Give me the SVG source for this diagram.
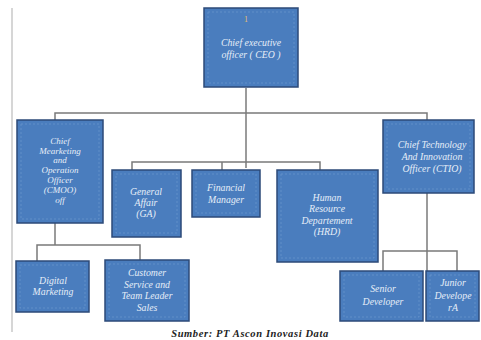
<svg xmlns="http://www.w3.org/2000/svg" width="481" height="340" viewBox="0 0 481 340">
<style>
.box{fill:#4a7dbe;stroke:#2c4a78;stroke-width:1.5}
.inner{fill:none;stroke:#8fb0dc;stroke-width:0.6;stroke-dasharray:2 2;opacity:0.6}
.t{font-family:"Liberation Serif","Times New Roman",serif;font-style:italic;font-size:9.8px;fill:#e6eef8;text-anchor:middle}
.s{font-size:9px}
.ln{fill:none;stroke:#7a7a7a;stroke-width:1.5}
.cap{font-family:"Liberation Serif","Times New Roman",serif;font-style:italic;font-weight:bold;font-size:10.5px;letter-spacing:0.6px;fill:#222;text-anchor:middle}
</style>
<rect width="481" height="340" fill="#ffffff"/>
<line x1="12" y1="8" x2="12" y2="332" stroke="#c8c8c8" stroke-width="1.5"/>
<g id="connectors">
<path class="ln" d="M246 88 V168"/>
<path class="ln" d="M55 120 V113 H427 V120"/>
<path class="ln" d="M132 170 V162 H320 V170"/>
<path class="ln" d="M222 162 V170"/>
<path class="ln" d="M55 223 V245"/>
<path class="ln" d="M37 261 V245 H140 V260"/>
<path class="ln" d="M427 193 V271"/>
<path class="ln" d="M383 271 V251 H457 V271"/>
</g>
<g id="ceo">
<rect class="box" x="204" y="8" width="94" height="79"/>
<rect class="inner" x="208" y="12" width="86" height="71"/>
<text class="t" x="246" y="22" style="font-size:8px;fill:#e8c070;font-style:normal">1</text>
<text class="t" x="251" y="46">Chief executive</text>
<text class="t" x="251" y="58">officer ( CEO )</text>
</g>
<g id="cmoo">
<rect class="box" x="17" y="120" width="86" height="103"/>
<rect class="inner" x="21" y="124" width="78" height="95"/>
<text class="t s" x="60" y="144">Chief</text>
<text class="t s" x="60" y="154">Mearketing</text>
<text class="t s" x="60" y="163">and</text>
<text class="t s" x="60" y="173">Operation</text>
<text class="t s" x="60" y="183">Officer</text>
<text class="t s" x="60" y="193">(CMOO)</text>
<text class="t s" x="60" y="203">off</text>
</g>
<g id="ga">
<rect class="box" x="112" y="170" width="69" height="67"/>
<rect class="inner" x="116" y="174" width="61" height="59"/>
<text class="t" x="146" y="195">General</text>
<text class="t" x="146" y="206">Affair</text>
<text class="t" x="146" y="217">(GA)</text>
</g>
<g id="financial">
<rect class="box" x="192" y="170" width="68" height="47"/>
<rect class="inner" x="196" y="174" width="60" height="39"/>
<text class="t" x="226" y="191">Financial</text>
<text class="t" x="226" y="203">Manager</text>
</g>
<g id="hrd">
<rect class="box" x="277" y="170" width="101" height="92"/>
<rect class="inner" x="281" y="174" width="93" height="84"/>
<text class="t" x="327" y="201">Human</text>
<text class="t" x="327" y="212">Resource</text>
<text class="t" x="327" y="224">Departement</text>
<text class="t" x="327" y="235">(HRD)</text>
</g>
<g id="ctio">
<rect class="box" x="383" y="120" width="91" height="73"/>
<rect class="inner" x="387" y="124" width="83" height="65"/>
<text class="t" x="432" y="148">Chief Technology</text>
<text class="t" x="432" y="160">And Innovation</text>
<text class="t" x="432" y="172">Officer (CTIO)</text>
</g>
<g id="digital">
<rect class="box" x="16" y="261" width="73" height="51"/>
<rect class="inner" x="20" y="265" width="65" height="43"/>
<text class="t" x="53" y="284">Digital</text>
<text class="t" x="53" y="295">Marketing</text>
</g>
<g id="customer">
<rect class="box" x="105" y="260" width="84" height="61"/>
<rect class="inner" x="109" y="264" width="76" height="53"/>
<text class="t" x="147" y="276">Customer</text>
<text class="t" x="147" y="288">Service and</text>
<text class="t" x="147" y="299">Team Leader</text>
<text class="t" x="147" y="311">Sales</text>
</g>
<g id="senior">
<rect class="box" x="340" y="271" width="83" height="50"/>
<rect class="inner" x="344" y="275" width="75" height="42"/>
<text class="t" x="383" y="292">Senior</text>
<text class="t" x="383" y="305">Developer</text>
</g>
<g id="junior">
<rect class="box" x="426" y="271" width="53" height="50"/>
<rect class="inner" x="430" y="275" width="45" height="42"/>
<text class="t" x="453" y="286">Junior</text>
<text class="t" x="453" y="299">Develope</text>
<text class="t" x="453" y="311">rA</text>
</g>
<text class="cap" x="250" y="337">Sumber: PT Ascon Inovasi Data</text>
</svg>
